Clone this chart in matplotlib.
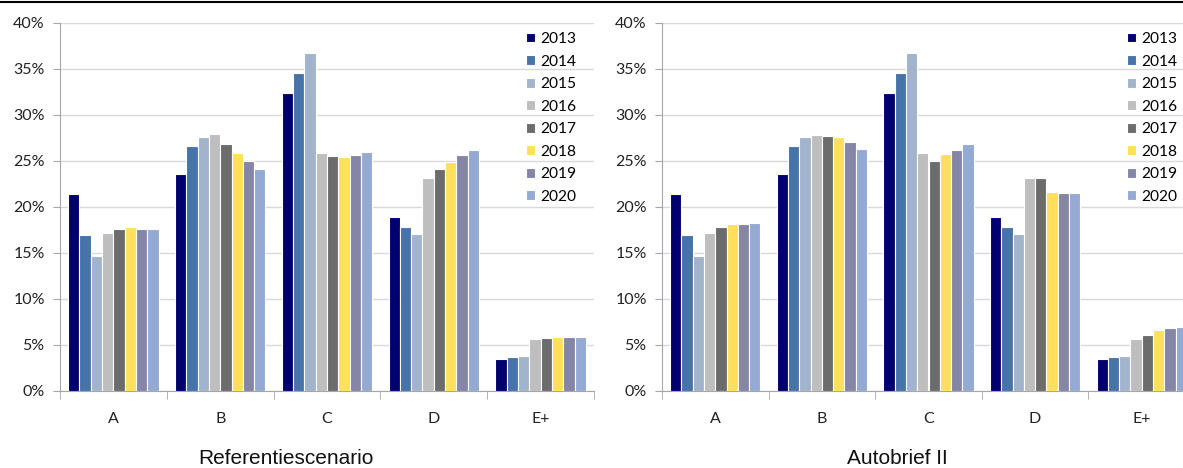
import numpy as np
import matplotlib.pyplot as plt
from matplotlib.lines import Line2D
from matplotlib.ticker import FuncFormatter

# categories and series (values in %)
categories = ['A', 'B', 'C', 'D', 'E+']
years = ['2013', '2014', '2015', '2016', '2017', '2018', '2019', '2020']
colors = ['#00006E', '#4673A8', '#A2B4CB', '#BEBEBE', '#6C6C6C',
          '#FFE05C', '#8585A8', '#94AAD2']

# Referentiescenario, one row per year
ref_2013 = [21.4, 23.6, 32.4, 18.9, 3.5]
ref_2014 = [17.0, 26.6, 34.6, 17.8, 3.7]
ref_2015 = [14.7, 27.6, 36.7, 17.1, 3.8]
ref_2016 = [17.2, 27.9, 25.9, 23.1, 5.6]
ref_2017 = [17.6, 26.8, 25.5, 24.1, 5.8]
ref_2018 = [17.8, 25.9, 25.4, 24.9, 5.9]
ref_2019 = [17.6, 25.0, 25.7, 25.6, 5.9]
ref_2020 = [17.6, 24.1, 26.0, 26.2, 5.9]

# Autobrief II
ab_2013 = [21.4, 23.6, 32.4, 18.9, 3.5]
ab_2014 = [17.0, 26.6, 34.6, 17.8, 3.7]
ab_2015 = [14.7, 27.6, 36.7, 17.1, 3.8]
ab_2016 = [17.2, 27.8, 25.9, 23.2, 5.7]
ab_2017 = [17.8, 27.7, 25.0, 23.2, 6.1]
ab_2018 = [18.1, 27.6, 25.8, 21.6, 6.6]
ab_2019 = [18.2, 27.1, 26.2, 21.5, 6.8]
ab_2020 = [18.3, 26.3, 26.8, 21.5, 7.0]

ref_series = [ref_2013, ref_2014, ref_2015, ref_2016, ref_2017, ref_2018, ref_2019, ref_2020]
ab_series = [ab_2013, ab_2014, ab_2015, ab_2016, ab_2017, ab_2018, ab_2019, ab_2020]

W, H = 1183, 468
fig = plt.figure(figsize=(W / 100, H / 100), dpi=100)

tick_font = 'Lato'
title_font = 'Liberation Sans'


def draw_panel(left_px, width_px, series, title, title_x):
    ax = fig.add_axes([left_px / W, 1 - 391 / H, width_px / W, (391 - 23) / H])
    x = np.arange(len(categories))
    bw = 0.106
    for i, (vals, c) in enumerate(zip(series, colors)):
        ax.bar(x + (i - 3.5) * bw, vals, width=bw, color=c,
               edgecolor='white', linewidth=0.8, label=years[i], zorder=3)
    ax.set_xlim(-0.5, len(categories) - 0.5)
    ax.set_ylim(0, 40)
    ax.set_yticks(np.arange(0, 41, 5))
    ax.yaxis.set_major_formatter(FuncFormatter(lambda v, p: f'{v:.0f}%'))
    ax.grid(axis='y', color='#D9D9D9', linewidth=1, zorder=0)
    ax.set_axisbelow(True)
    for s in ['top', 'right']:
        ax.spines[s].set_visible(False)
    for s in ['left', 'bottom']:
        ax.spines[s].set_color('#A6A6A6')
    ax.set_xticks(x)
    ax.set_xticklabels(categories)
    ax.set_xticks(np.arange(-0.5, len(categories)), minor=True)
    ax.tick_params(axis='x', which='major', length=0, pad=15)
    ax.tick_params(axis='x', which='minor', length=6, color='#A6A6A6')
    ax.tick_params(axis='y', length=5, color='#A6A6A6', pad=6)
    for lab in ax.get_xticklabels() + ax.get_yticklabels():
        lab.set_fontfamily(tick_font)
        lab.set_fontsize(11.5)
        lab.set_color('#222222')
    fig.text(title_x / W, 1 - 459 / H, title, ha='center', va='center',
             fontsize=15, family=title_font, color='#111111')
    return ax


ax1 = draw_panel(60, 534, ref_series, 'Referentiescenario', 286)
ax2 = draw_panel(662, 533, ab_series, 'Autobrief II', 897)

for ax, lx in [(ax1, 526), (ax2, 1127)]:
    ax.legend(loc='upper left', bbox_to_anchor=(lx / W, 1 - 32 / H),
              bbox_transform=fig.transFigure, frameon=False,
              prop={'family': tick_font, 'size': 11.2},
              handlelength=0.6, handleheight=0.6, handletextpad=0.3,
              labelspacing=0.55, borderpad=0, borderaxespad=0)

# thin black rule along the top edge
fig.add_artist(Line2D([0, 1], [1 - 2 / H, 1 - 2 / H], transform=fig.transFigure,
                      color='black', linewidth=1.5))

fig.savefig('out.png', dpi=100)
